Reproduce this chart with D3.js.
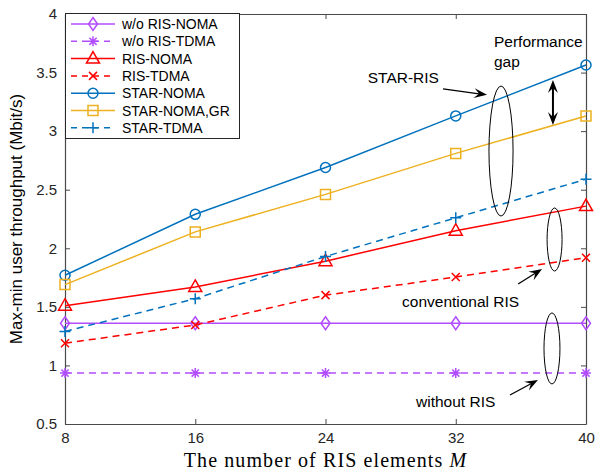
<!DOCTYPE html>
<html>
<head>
<meta charset="utf-8">
<script src="https://cdn.jsdelivr.net/npm/d3@7"></script>
<style>
  html, body { margin: 0; padding: 0; background: #fff; }
  svg { display: block; }
  text { font-family: "Liberation Sans", Arial, Helvetica, sans-serif; }
</style>
</head>
<body>
<div id="chart"></div>
<script>
// Number of RIS elements
const elements = [8, 16, 24, 32, 40];

// Max-min user throughput (Mbit/s) per scheme
const woRisNoma   = [1.36, 1.36, 1.36, 1.36, 1.36];
const woRisTdma   = [0.935, 0.935, 0.935, 0.935, 0.935];
const risNoma     = [1.51, 1.67, 1.89, 2.15, 2.36];
const risTdma     = [1.19, 1.345, 1.60, 1.755, 1.92];
const starNoma    = [1.77, 2.29, 2.69, 3.13, 3.565];
const starNomaGr  = [1.69, 2.14, 2.46, 2.81, 3.13];
const starTdma    = [1.29, 1.57, 1.93, 2.26, 2.59];

const seriesNames = ["w/o RIS-NOMA", "w/o RIS-TDMA", "RIS-NOMA", "RIS-TDMA",
                     "STAR-NOMA", "STAR-NOMA,GR", "STAR-TDMA"];
const xTicks = [8, 16, 24, 32, 40];
const yTicks = [0.5, 1, 1.5, 2, 2.5, 3, 3.5, 4];
const yTickLabels = ["0.5", "1", "1.5", "2", "2.5", "3", "3.5", "4"];

const purple = "#b24dff", red = "#ff0000", blue = "#0072bd", gold = "#edb120";

const series = [
  { name: seriesNames[0], values: woRisNoma,  color: purple, dash: null,  marker: "diamond" },
  { name: seriesNames[1], values: woRisTdma,  color: purple, dash: "7,5", marker: "asterisk" },
  { name: seriesNames[2], values: risNoma,    color: red,    dash: null,  marker: "triangle" },
  { name: seriesNames[3], values: risTdma,    color: red,    dash: "7,5", marker: "x" },
  { name: seriesNames[4], values: starNoma,   color: blue,   dash: null,  marker: "circle" },
  { name: seriesNames[5], values: starNomaGr, color: gold,   dash: null,  marker: "square" },
  { name: seriesNames[6], values: starTdma,   color: blue,   dash: "7,5", marker: "plus" }
];

// Annotation ellipses, in data units (centre M, centre throughput, half-width in M, half-height in Mbit/s)
const ellipses = [
  { cx: 34.78, cy: 2.83,  rx: 0.74, ry: 0.555 },
  { cx: 38.07, cy: 2.075, rx: 0.46, ry: 0.269 },
  { cx: 37.91, cy: 1.145, rx: 0.49, ry: 0.303 }
];
// Annotation arrows [fromM, fromY, toM, toY]
const arrows = [
  [31.22, 3.36, 33.92, 3.31],
  [35.83, 1.695, 37.30, 1.823],
  [35.33, 0.748, 37.05, 0.876]
];
const gapArrow = [37.97, 3.437, 37.97, 3.053];
const notes = [
  { text: "STAR-RIS",         m: 30.97, v: 3.41,  anchor: "end" },
  { text: "Performance",      m: 34.35, v: 3.718, anchor: "start" },
  { text: "gap",              m: 34.35, v: 3.55,  anchor: "start" },
  { text: "conventional RIS", m: 28.70, v: 1.499, anchor: "start" },
  { text: "without RIS",      m: 29.56, v: 0.645, anchor: "start" }
];

const W = 600, H = 472;
const margin = { left: 65, right: 14, top: 14, bottom: 48 };
const iw = W - margin.left - margin.right;
const ih = H - margin.top - margin.bottom;

const svg = d3.select("#chart").append("svg").attr("width", W).attr("height", H);
const g = svg.append("g").attr("transform", `translate(${margin.left},${margin.top})`);

const x = d3.scaleLinear().domain([8, 40]).range([0, iw]);
const y = d3.scaleLinear().domain([0.5, 4]).range([ih, 0]);

const axisColor = "#4a4a4a";

// Axes with inward ticks, mirrored on top and right
const styleAxis = sel => {
  sel.selectAll("path.domain").attr("stroke", axisColor).attr("stroke-width", 1.2);
  sel.selectAll(".tick line").attr("stroke", axisColor).attr("stroke-width", 1);
  sel.selectAll(".tick text").attr("fill", "#262626")
    .style("font-size", "15px").style("font-family", "'Liberation Sans', Arial, sans-serif");
};
g.append("g").attr("transform", `translate(0,${ih})`)
  .call(d3.axisBottom(x).tickValues(xTicks).tickSizeInner(-5).tickSizeOuter(0).tickPadding(8))
  .call(styleAxis);
g.append("g")
  .call(d3.axisLeft(y).tickValues(yTicks).tickFormat((d, i) => yTickLabels[i])
    .tickSizeInner(-5).tickSizeOuter(0).tickPadding(8))
  .call(styleAxis);
g.append("g")
  .call(d3.axisTop(x).tickValues(xTicks).tickFormat("").tickSizeInner(-5).tickSizeOuter(0))
  .call(styleAxis);
g.append("g").attr("transform", `translate(${iw},0)`)
  .call(d3.axisRight(y).tickValues(yTicks).tickFormat("").tickSizeInner(-5).tickSizeOuter(0))
  .call(styleAxis);

// Marker shapes
function markerPath(type) {
  const p = d3.path();
  switch (type) {
    case "circle": p.moveTo(5, 0); p.arc(0, 0, 5, 0, 2 * Math.PI); break;
    case "square": p.rect(-5, -5, 10, 10); break;
    case "diamond": p.moveTo(0, -6.5); p.lineTo(4.5, 0); p.lineTo(0, 6.5); p.lineTo(-4.5, 0); p.closePath(); break;
    case "triangle": p.moveTo(0, -7); p.lineTo(6.5, 4.5); p.lineTo(-6.5, 4.5); p.closePath(); break;
    case "x": p.moveTo(-4, -4); p.lineTo(4, 4); p.moveTo(-4, 4); p.lineTo(4, -4); break;
    case "plus": p.moveTo(-5.5, 0); p.lineTo(5.5, 0); p.moveTo(0, -5.5); p.lineTo(0, 5.5); break;
    case "asterisk":
      p.moveTo(-5, 0); p.lineTo(5, 0); p.moveTo(0, -5); p.lineTo(0, 5);
      p.moveTo(-3.6, -3.6); p.lineTo(3.6, 3.6); p.moveTo(-3.6, 3.6); p.lineTo(3.6, -3.6); break;
  }
  return p.toString();
}

const line = d3.line().x((d, i) => x(elements[i])).y(d => y(d));
const plot = g.append("g");
series.forEach(s => {
  plot.append("path").datum(s.values)
    .attr("d", line).attr("fill", "none")
    .attr("stroke", s.color).attr("stroke-width", 1.5)
    .attr("stroke-dasharray", s.dash);
  plot.selectAll(null).data(s.values).enter().append("path")
    .attr("transform", (d, i) => `translate(${x(elements[i])},${y(d)})`)
    .attr("d", markerPath(s.marker))
    .attr("fill", "none").attr("stroke", s.color).attr("stroke-width", 1.5);
});

// Annotations
const ann = g.append("g");
ellipses.forEach(e => {
  ann.append("ellipse")
    .attr("cx", x(e.cx)).attr("cy", y(e.cy))
    .attr("rx", x(e.cx + e.rx) - x(e.cx)).attr("ry", y(e.cy - e.ry) - y(e.cy))
    .attr("fill", "none").attr("stroke", "#000").attr("stroke-width", 1);
});

function arrowHead(x2, y2, angle) {
  // swept-back filled head pointing along angle
  const len = 13, half = 5, back = 8;
  const c = Math.cos(angle), s = Math.sin(angle);
  const pt = (a, b) => [x2 + a * c - b * s, y2 + a * s + b * c];
  const pts = [pt(0, 0), pt(-len, -half), pt(-back, 0), pt(-len, half)];
  return "M" + pts.map(q => q.join(",")).join("L") + "Z";
}
arrows.forEach(a => {
  const x1 = x(a[0]), y1 = y(a[1]), x2 = x(a[2]), y2 = y(a[3]);
  const ang = Math.atan2(y2 - y1, x2 - x1);
  ann.append("line").attr("x1", x1).attr("y1", y1)
    .attr("x2", x2 - 8 * Math.cos(ang)).attr("y2", y2 - 8 * Math.sin(ang))
    .attr("stroke", "#000").attr("stroke-width", 1.3);
  ann.append("path").attr("d", arrowHead(x2, y2, ang)).attr("fill", "#000");
});
{
  const x1 = x(gapArrow[0]), y1 = y(gapArrow[1]), x2 = x(gapArrow[2]), y2 = y(gapArrow[3]);
  const ang = Math.atan2(y2 - y1, x2 - x1);
  ann.append("line").attr("x1", x1).attr("y1", y1 + 8).attr("x2", x2).attr("y2", y2 - 8)
    .attr("stroke", "#000").attr("stroke-width", 2);
  ann.append("path").attr("d", arrowHead(x2, y2, ang)).attr("fill", "#000");
  ann.append("path").attr("d", arrowHead(x1, y1, ang + Math.PI)).attr("fill", "#000");
}
notes.forEach(n => {
  ann.append("text").attr("x", x(n.m)).attr("y", y(n.v))
    .attr("text-anchor", n.anchor).attr("fill", "#000")
    .style("font-size", "15.5px").text(n.text);
});

// Legend
const legend = g.append("g");
const rowH = 17.3;
legend.append("rect").attr("x", 0.5).attr("y", -0.5).attr("width", 174).attr("height", 125)
  .attr("fill", "#fff").attr("stroke", "#262626").attr("stroke-width", 1);
series.forEach((s, i) => {
  const cy = 10 + i * rowH;
  legend.append("line").attr("x1", 6).attr("x2", 50).attr("y1", cy).attr("y2", cy)
    .attr("stroke", s.color).attr("stroke-width", 1.5).attr("stroke-dasharray", s.dash ? "6,5" : null);
  legend.append("path").attr("transform", `translate(28,${cy})`)
    .attr("d", markerPath(s.marker)).attr("fill", "none")
    .attr("stroke", s.color).attr("stroke-width", 1.5);
  legend.append("text").attr("x", 57).attr("y", cy + 5)
    .attr("fill", "#000").style("font-size", "14px").text(s.name);
});

// Axis titles
svg.append("text")
  .attr("transform", `translate(22,${margin.top + ih / 2}) rotate(-90)`)
  .attr("text-anchor", "middle").attr("fill", "#000")
  .style("font-size", "17px").text("Max-min user throughput (Mbit/s)");
const xt = svg.append("text")
  .attr("x", margin.left + iw / 2).attr("y", 467)
  .attr("text-anchor", "middle").attr("fill", "#000")
  .style("font-family", "'Liberation Serif', 'Times New Roman', serif").style("font-size", "20px")
  .style("letter-spacing", "1.1px");
xt.append("tspan").text("The number of RIS elements ");
xt.append("tspan").style("font-style", "italic").text("M");
</script>
</body>
</html>
